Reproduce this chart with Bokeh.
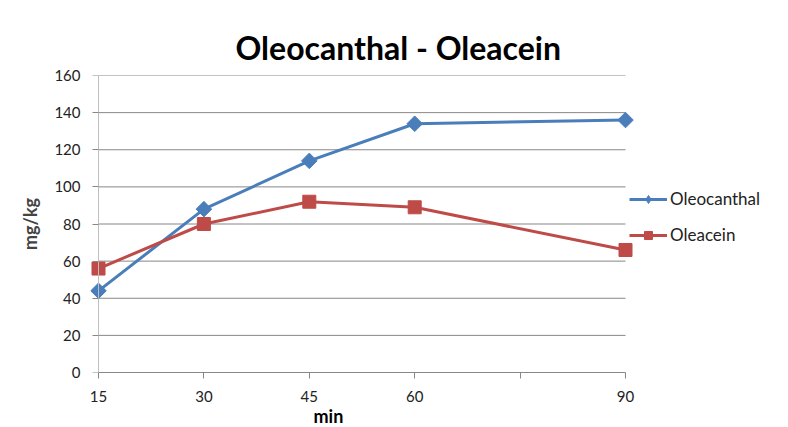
from math import pi
from bokeh.plotting import figure
from bokeh.models import (ColumnDataSource, FixedTicker, Range1d, Legend, LegendItem, Title, LinearAxis)
from bokeh.embed import file_html
from bokeh.resources import INLINE

minutes = [15, 30, 45, 60, 90]
oleocanthal = [44, 88, 114, 134, 136]
oleacein = [56, 80, 92, 89, 66]
x_ticks = [15, 30, 45, 60, 75, 90]
y_ticks = [0, 20, 40, 60, 80, 100, 120, 140, 160]

FONT = "Lato"
BLUE = "#4a7ebb"
RED = "#be4b48"
GRID = "#878787"

# layout: value 15 sits 98px from the left, value 90 at 625px
W, H = 772, 427
FRAME_L, X15, X90 = 90, 98, 625
ppu = (X90 - X15) / (x_ticks[-1] - x_ticks[0])
x_start = x_ticks[0] - (X15 - FRAME_L) / ppu
x_end = x_ticks[0] + (W - X15) / ppu

src = ColumnDataSource(dict(x=minutes, a=oleocanthal, b=oleacein))

p = figure(width=W, height=H, output_backend="svg", toolbar_location=None,
           x_range=Range1d(x_start, x_end), y_range=Range1d(y_ticks[0], y_ticks[-1]),
           min_border_left=FRAME_L, min_border_right=0, min_border_top=75, min_border_bottom=55)
p.outline_line_color = None
p.background_fill_color = "white"
p.border_fill_color = "white"
p.xgrid.grid_line_color = None
p.ygrid.grid_line_color = None

# horizontal gridlines spanning only the data extent
p.segment(x0=[x_ticks[0]] * (len(y_ticks) - 1), x1=[x_ticks[-1]] * (len(y_ticks) - 1),
          y0=y_ticks[1:], y1=y_ticks[1:], line_color=GRID, line_width=1)

# x axis
xa = p.xaxis[0]
xa.ticker = FixedTicker(ticks=x_ticks)
xa.major_label_overrides = {75: ""}
xa.bounds = (x_ticks[0], x_ticks[-1])
xa.axis_line_color = GRID
xa.major_tick_line_color = GRID
xa.major_tick_in = 0
xa.major_tick_out = 6
xa.minor_tick_in = 0
xa.minor_tick_out = 0
xa.major_label_text_font = FONT
xa.major_label_text_font_size = "15px"
xa.major_label_text_color = "#222222"
xa.major_label_standoff = 12

# y axis labels (at frame edge, no line/ticks)
ya = p.yaxis[0]
ya.ticker = FixedTicker(ticks=y_ticks)
ya.axis_line_color = None
ya.major_tick_line_color = None
ya.minor_tick_line_color = None
ya.major_tick_in = 0
ya.major_tick_out = 0
ya.major_label_standoff = 10
ya.major_label_text_font = FONT
ya.major_label_text_font_size = "15px"
ya.major_label_text_color = "#222222"
ya.axis_label = "mg/kg"
ya.axis_label_text_font = FONT
ya.axis_label_text_font_style = "bold"
ya.axis_label_text_font_size = "18px"
ya.axis_label_standoff = 10

# y axis line + ticks at x = 15
ya2 = LinearAxis(ticker=FixedTicker(ticks=y_ticks), fixed_location=x_ticks[0],
                 axis_line_color="#bfbfbf", major_tick_line_color=GRID,
                 major_tick_in=0, major_tick_out=6, minor_tick_in=0, minor_tick_out=0,
                 major_label_text_alpha=0, major_label_text_font_size="1px")
p.add_layout(ya2, "left")

# series
l1 = p.line("x", "a", source=src, line_color=BLUE, line_width=3)
m1 = p.scatter("x", "a", source=src, marker="square", angle=pi / 4, size=11,
               fill_color=BLUE, line_color=BLUE)
l2 = p.line("x", "b", source=src, line_color=RED, line_width=3)
m2 = p.scatter("x", "b", source=src, marker="square", size=13,
               fill_color=RED, line_color=RED)
# legend-only diamond glyph
m1_leg = p.scatter("x", "a", source=src, marker="diamond", size=14,
                   fill_color=BLUE, line_color=BLUE, visible=False)

legend = Legend(items=[LegendItem(label="Oleocanthal", renderers=[l1, m1_leg]),
                       LegendItem(label="Oleacein", renderers=[l2, m2])],
                location=(629 - FRAME_L, 127), border_line_color=None, background_fill_alpha=0,
                padding=0, margin=0, spacing=15, glyph_width=38, glyph_height=20,
                label_standoff=3, label_text_font=FONT, label_text_font_size="17px",
                label_text_color="#222222", inactive_fill_alpha=0)
p.add_layout(legend, "center")

p.add_layout(Title(text="Oleocanthal - Oleacein", text_font=FONT, text_font_style="bold",
                   text_font_size="32px", align="left", offset=235 - FRAME_L, standoff=18,
                   text_color="black"), "above")

p.add_layout(Title(text="min", text_font=FONT, text_font_style="bold",
                   text_font_size="18px", align="left", offset=313 - FRAME_L, standoff=-3,
                   text_color="black"), "below")

open("out.html", "w").write(file_html(p, INLINE))
